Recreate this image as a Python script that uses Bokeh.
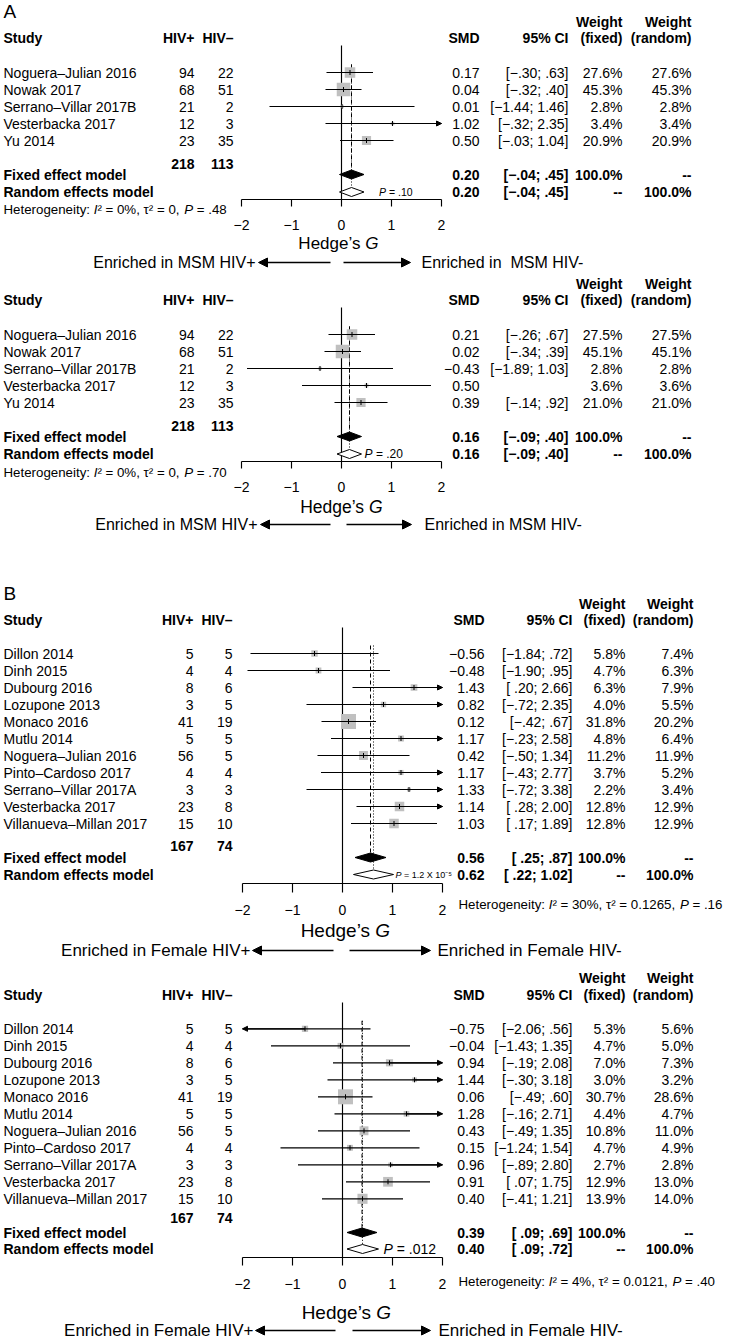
import numpy as np
from bokeh.plotting import figure
from bokeh.layouts import column
from bokeh.models import Range1d, ColumnDataSource, Arrow, NormalHead
from bokeh.core.properties import value
from bokeh.embed import file_html
from bokeh.resources import INLINE

FONT = "Liberation Sans"
BOX = "#c0c0c0"

# ---------------- data: MSM (panel A) ----------------
msm_studies = ["Noguera–Julian 2016", "Nowak 2017", "Serrano–Villar 2017B",
               "Vesterbacka 2017", "Yu 2014"]
msm_n_pos = [94, 68, 21, 12, 23]
msm_n_neg = [22, 51, 2, 3, 35]

a1_smd = [0.17, 0.04, 0.01, 1.02, 0.50]
a1_lo = [-0.30, -0.32, -1.44, -0.32, -0.03]
a1_hi = [0.63, 0.40, 1.46, 2.35, 1.04]
a1_ci_shown = [True, True, True, True, True]
a1_wf = [27.6, 45.3, 2.8, 3.4, 20.9]
a1_wr = [27.6, 45.3, 2.8, 3.4, 20.9]
a1_fixed = [0.20, -0.04, 0.45]
a1_random = [0.20, -0.04, 0.45]
a1_p = ".10"
a1_het = ["0%", "0", ".48"]

a2_smd = [0.21, 0.02, -0.43, 0.50, 0.39]
a2_lo = [-0.26, -0.34, -1.89, -0.79, -0.14]
a2_hi = [0.67, 0.39, 1.03, 1.79, 0.92]
a2_ci_shown = [True, True, True, False, True]
a2_wf = [27.5, 45.1, 2.8, 3.6, 21.0]
a2_wr = [27.5, 45.1, 2.8, 3.6, 21.0]
a2_fixed = [0.16, -0.09, 0.40]
a2_random = [0.16, -0.09, 0.40]
a2_p = ".20"
a2_het = ["0%", "0", ".70"]

# ---------------- data: Female (panel B) ----------------
fem_studies = ["Dillon 2014", "Dinh 2015", "Dubourg 2016", "Lozupone 2013",
               "Monaco 2016", "Mutlu 2014", "Noguera–Julian 2016",
               "Pinto–Cardoso 2017", "Serrano–Villar 2017A", "Vesterbacka 2017",
               "Villanueva–Millan 2017"]
fem_n_pos = [5, 4, 8, 3, 41, 5, 56, 4, 3, 23, 15]
fem_n_neg = [5, 4, 6, 5, 19, 5, 5, 4, 3, 8, 10]

b1_smd = [-0.56, -0.48, 1.43, 0.82, 0.12, 1.17, 0.42, 1.17, 1.33, 1.14, 1.03]
b1_lo = [-1.84, -1.90, 0.20, -0.72, -0.42, -0.23, -0.50, -0.43, -0.72, 0.28, 0.17]
b1_hi = [0.72, 0.95, 2.66, 2.35, 0.67, 2.58, 1.34, 2.77, 3.38, 2.00, 1.89]
b1_ci_shown = [True] * 11
b1_wf = [5.8, 4.7, 6.3, 4.0, 31.8, 4.8, 11.2, 3.7, 2.2, 12.8, 12.8]
b1_wr = [7.4, 6.3, 7.9, 5.5, 20.2, 6.4, 11.9, 5.2, 3.4, 12.9, 12.9]
b1_fixed = [0.56, 0.25, 0.87]
b1_random = [0.62, 0.22, 1.02]
b1_p = "1.2 X 10⁻⁵"
b1_het = ["30%", "0.1265", ".16"]

b2_smd = [-0.75, -0.04, 0.94, 1.44, 0.06, 1.28, 0.43, 0.15, 0.96, 0.91, 0.40]
b2_lo = [-2.06, -1.43, -0.19, -0.30, -0.49, -0.16, -0.49, -1.24, -0.89, 0.07, -0.41]
b2_hi = [0.56, 1.35, 2.08, 3.18, 0.60, 2.71, 1.35, 1.54, 2.80, 1.75, 1.21]
b2_ci_shown = [True] * 11
b2_wf = [5.3, 4.7, 7.0, 3.0, 30.7, 4.4, 10.8, 4.7, 2.7, 12.9, 13.9]
b2_wr = [5.6, 5.0, 7.3, 3.2, 28.6, 4.7, 11.0, 4.9, 2.8, 13.0, 14.0]
b2_fixed = [0.39, 0.09, 0.69]
b2_random = [0.40, 0.09, 0.72]
b2_p = ".012"
b2_het = ["4%", "0.0121", ".40"]

ticks = [-2, -1, 0, 1, 2]
tick_labels = ["−2", "−1", "0", "1", "2"]
XLIM = 2.0

# ---------------- layout ----------------
W = 730
XOFF = 0
UNIT = 50.0

# Arial / Liberation Sans advance widths (per 1000 em) for the heterogeneity line
CW = {" ": 278, "H": 722, "e": 556, "t": 278, "r": 333, "o": 556, "g": 556,
      "n": 556, "i": 222, "y": 500, ":": 278, "I": 278, "P": 667, "²": 333,
      "=": 584, "%": 889, ",": 278, ".": 278, "τ": 470}


def tw(s, size):
    return sum(CW.get(c, 556) for c in s) * size / 1000.0


def num(v):
    s = f"{abs(v):.2f}"
    if s.startswith("0."):
        s = s[1:]
    return ("−" if v < 0 else "") + s


def ci_str(lo, hi):
    los = num(lo) if lo < 0 else " " + num(lo)
    return f"[{los}; {num(hi)}]"


def smd_str(v):
    return ("−" if v < 0 else "") + f"{abs(v):.2f}"


def build(d, L):
    T = L["top"]
    H = L["bottom"] - T
    X = lambda v: v - XOFF
    Y = lambda v: v - T
    zero = X(L["zero"])
    p = figure(width=W, height=H, x_range=Range1d(0, W), y_range=Range1d(H, 0),
               output_backend="svg", toolbar_location=None, min_border=0,
               x_axis_location=None, y_axis_location=None)
    p.extra_x_ranges = {"g": Range1d(-zero / UNIT, (W - zero) / UNIT)}
    p.xgrid.visible = False
    p.ygrid.visible = False
    p.outline_line_color = None
    p.background_fill_color = "white"
    p.border_fill_color = "white"

    def text(xs, ys, texts, align="left", size=14, style="normal", font=FONT,
             rng="default", x_offset=0):
        p.text(x=list(xs), y=list(ys), text=list(texts), text_align=align,
               text_baseline="middle", text_font=value(font),
               text_font_size=f"{size}px", text_font_style=style,
               text_color="black", x_offset=x_offset, x_range_name=rng)

    studies = d["studies"]
    n = len(studies)
    ys = [Y(L["row0"] + i * L["step"]) for i in range(n)]

    if L.get("label"):
        text([X(3)], [Y(L["label_y"])], [L["label"]], size=19)

    # headers
    text([X(3)], [Y(L["hdr"])], ["Study"], style="bold")
    cols = [L["hivp_r"], L["hivn_r"], L["smd_r"], L["ci_r"], L["wf_r"], L["wr_r"]]
    text([X(c) for c in cols], [Y(L["hdr"])] * 6,
         ["HIV+", "HIV–", "SMD", "95% CI", "(fixed)", "(random)"],
         align="right", style="bold")
    text([X(L["wf_r"]), X(L["wr_r"])], [Y(L["w1"])] * 2, ["Weight", "Weight"],
         align="right", style="bold")

    # study rows
    text([X(3)] * n, ys, studies)
    text([X(L["hivp_r"])] * n, ys, [str(v) for v in d["n_pos"]], align="right")
    text([X(L["hivn_r"])] * n, ys, [str(v) for v in d["n_neg"]], align="right")
    text([X(L["smd_r"])] * n, ys, [smd_str(v) for v in d["smd"]], align="right")
    text([X(L["ci_r"])] * n, ys,
         [ci_str(lo, hi) if s else "" for lo, hi, s in zip(d["lo"], d["hi"], d["ci_shown"])],
         align="right")
    text([X(L["wf_r"])] * n, ys, [f"{w:.1f}%" for w in d["wf"]], align="right")
    text([X(L["wr_r"])] * n, ys, [f"{w:.1f}%" for w in d["wr"]], align="right")

    # totals
    text([X(L["hivp_r"]), X(L["hivn_r"])], [Y(L["totals"])] * 2,
         [str(sum(d["n_pos"])), str(sum(d["n_neg"]))], align="right", style="bold")

    # pooled rows
    fy, ry = Y(L["fixed"]), Y(L["random"])
    text([X(3), X(3)], [fy, ry], ["Fixed effect model", "Random effects model"], style="bold")
    fx, rx = d["fixed"], d["random"]
    text([X(L["smd_r"])] * 2, [fy, ry], [smd_str(fx[0]), smd_str(rx[0])], align="right", style="bold")
    text([X(L["ci_r"])] * 2, [fy, ry], [ci_str(fx[1], fx[2]), ci_str(rx[1], rx[2])], align="right", style="bold")
    text([X(L["wf_r"])] * 2, [fy, ry], ["100.0%", "--"], align="right", style="bold")
    text([X(L["wr_r"])] * 2, [fy, ry], ["--", "100.0%"], align="right", style="bold")

    # ---- forest ----
    smd = np.array(d["smd"])
    lo = np.array(d["lo"])
    hi = np.array(d["hi"])
    wf = np.array(d["wf"])
    yarr = np.array(ys)
    ax_y = Y(L["axis"])
    LW = 1.15

    # reference lines
    p.segment(x0=[0], y0=[Y(L["zero_top"])], x1=[0], y1=[ax_y], line_color="black",
              line_width=LW, x_range_name="g")
    top_ref = Y(L["row0"]) - 8
    p.segment(x0=[fx[0]], y0=[top_ref], x1=[fx[0]], y1=[fy - 4.5], line_color="black",
              line_width=1, line_dash="4 3", x_range_name="g")
    p.segment(x0=[rx[0]], y0=[top_ref], x1=[rx[0]], y1=[ry - 4.5], line_color="black",
              line_width=1, line_dash="1 2", x_range_name="g")

    sizes = L["box_max"] * np.sqrt(wf / wf.max())
    p.scatter(x=smd, y=yarr, marker="square", size=sizes, fill_color=BOX,
              line_color=None, x_range_name="g")
    lo_c = np.maximum(lo, -XLIM)
    hi_c = np.minimum(hi, XLIM)
    p.segment(x0=lo_c, y0=yarr, x1=hi_c, y1=yarr, line_color="black", line_width=LW,
              x_range_name="g")
    p.segment(x0=smd, y0=yarr - 2.5, x1=smd, y1=yarr + 2.5, line_color="black",
              line_width=1, x_range_name="g")

    rmask = hi >= XLIM
    lmask = lo <= -XLIM
    for mask, end in ((rmask, XLIM), (lmask, -XLIM)):
        if mask.any():
            src = ColumnDataSource(dict(xs=smd[mask], xe=np.full(mask.sum(), end),
                                        y=yarr[mask]))
            p.add_layout(Arrow(x_start="xs", y_start="y", x_end="xe", y_end="y",
                               source=src, line_width=LW, line_color="black",
                               end=NormalHead(size=5, fill_color="black",
                                              line_color="black", line_width=1),
                               x_range_name="g"))

    # diamonds
    dh = 4.5
    p.patches(xs=[[fx[1], fx[0], fx[2], fx[0]]], ys=[[fy, fy - dh, fy, fy + dh]],
              fill_color="black", line_color="black", line_width=1, x_range_name="g")
    p.patches(xs=[[rx[1], rx[0], rx[2], rx[0]]], ys=[[ry, ry - dh, ry, ry + dh]],
              fill_color="white", line_color="black", line_width=1, x_range_name="g")

    # p-value
    ps = L["p_size"]
    text([rx[2]], [ry], ["P"], size=ps, style="italic", rng="g", x_offset=L["p_gap"])
    text([rx[2]], [ry], ["= " + d["p"]], size=ps, rng="g",
         x_offset=L["p_gap"] + 0.95 * ps)

    # axis
    p.segment(x0=[ticks[0]], y0=[ax_y], x1=[ticks[-1]], y1=[ax_y], line_color="black",
              line_width=LW, x_range_name="g")
    p.segment(x0=ticks, y0=[ax_y] * len(ticks), x1=ticks,
              y1=[ax_y + L["tick_len"]] * len(ticks), line_color="black",
              line_width=LW, x_range_name="g")
    text(ticks, [Y(L["ticklab"])] * len(ticks), tick_labels, align="center", rng="g")

    # heterogeneity (italic I and P)
    h = d["het"]
    hs = L["het_size"]
    pieces = [("Heterogeneity: ", "normal"), ("I", "italic"),
              (f"² = {h[0]}, τ² = {h[1]}, ", "normal"), ("P", "italic"),
              (f" = {h[2]}", "normal")]
    cx = X(L["het_x"])
    for s_, st in pieces:
        lead = len(s_) - len(s_.lstrip(" "))
        text([cx + tw(" " * lead, hs)], [Y(L["het_y"])], [s_.strip(" ")], size=hs, style=st)
        cx += tw(s_, hs)

    # Hedge's G
    s = L["hedge_size"]
    start = X(L["hedge_c"]) - 2.3465 * s
    text([start + 3.637 * s], [Y(L["hedge_y"])], ["Hedge’s"], align="right", size=s)
    text([start + 3.915 * s], [Y(L["hedge_y"])], ["G"], size=s, style="italic")

    # enriched arrows
    ey = Y(L["enr_y"])
    es = L["enr_size"]
    text([X(L["lt_r"])], [ey], [d["left_txt"]], align="right", size=es)
    text([X(L["rt_l"])], [ey], [d["right_txt"]], size=es)
    for a0, a1 in (L["la"], L["ra"]):
        p.add_layout(Arrow(x_start=X(a0), y_start=ey, x_end=X(a1), y_end=ey,
                           line_width=1.3, line_color="black",
                           end=NormalHead(size=9, fill_color="black",
                                          line_color="black", line_width=1)))
    return p


A_cols = dict(zero=341, hivp_r=194, hivn_r=233, smd_r=479, ci_r=568, wf_r=622,
              wr_r=691, step=17, box_max=13.5, het_size=13.3)
B_cols = dict(zero=342, hivp_r=193, hivn_r=232, smd_r=484, ci_r=572, wf_r=625,
              wr_r=693, step=17, box_max=15, het_size=13.3)

LA1 = dict(A_cols, top=0, bottom=273, label="A", label_y=11, w1=21, hdr=37, row0=72,
           totals=163, fixed=174, random=191.5, zero_top=45, axis=199, tick_len=7,
           ticklab=224, het_x=3, het_y=208.5, hedge_c=338, hedge_y=243, hedge_size=17,
           enr_y=262, enr_size=16, lt_r=255, la=(330, 258), ra=(343, 410), rt_l=421,
           p_gap=15, p_size=10.5)
LA2 = dict(A_cols, top=273, bottom=578, label=None, w1=283, hdr=299, row0=334,
           totals=425, fixed=436, random=453.5, zero_top=307, axis=461, tick_len=7,
           ticklab=486, het_x=3, het_y=472, hedge_c=341, hedge_y=506, hedge_size=17.5,
           enr_y=524, enr_size=16, lt_r=257, la=(330, 260), ra=(346, 411), rt_l=424,
           p_gap=3, p_size=12)
LB1 = dict(B_cols, top=578, bottom=962, label="B", label_y=593, w1=603, hdr=619,
           row0=653, totals=845, fixed=857, random=874, zero_top=627, axis=883,
           tick_len=9, ticklab=909, het_x=458, het_y=904, hedge_c=345, hedge_y=930,
           hedge_size=19, enr_y=950, enr_size=17, lt_r=250, la=(333, 252),
           ra=(349, 430), rt_l=437, p_gap=2, p_size=9)
LB2 = dict(B_cols, top=962, bottom=1338, label=None, w1=977, hdr=994, row0=1028.3,
           totals=1217, fixed=1232, random=1248.5, zero_top=1002, axis=1257,
           tick_len=8, ticklab=1283, het_x=458, het_y=1281, hedge_c=346, hedge_y=1312,
           hedge_size=19, enr_y=1330, enr_size=17, lt_r=253, la=(335, 255),
           ra=(352, 430), rt_l=438, p_gap=5, p_size=14)

DA1 = dict(studies=msm_studies, n_pos=msm_n_pos, n_neg=msm_n_neg, smd=a1_smd, lo=a1_lo,
           hi=a1_hi, ci_shown=a1_ci_shown, wf=a1_wf, wr=a1_wr, fixed=a1_fixed,
           random=a1_random, p=a1_p, het=a1_het,
           left_txt="Enriched in MSM HIV+", right_txt="Enriched in\u00a0 MSM HIV-")
DA2 = dict(studies=msm_studies, n_pos=msm_n_pos, n_neg=msm_n_neg, smd=a2_smd, lo=a2_lo,
           hi=a2_hi, ci_shown=a2_ci_shown, wf=a2_wf, wr=a2_wr, fixed=a2_fixed,
           random=a2_random, p=a2_p, het=a2_het,
           left_txt="Enriched in MSM HIV+", right_txt="Enriched in MSM HIV-")
DB1 = dict(studies=fem_studies, n_pos=fem_n_pos, n_neg=fem_n_neg, smd=b1_smd, lo=b1_lo,
           hi=b1_hi, ci_shown=b1_ci_shown, wf=b1_wf, wr=b1_wr, fixed=b1_fixed,
           random=b1_random, p=b1_p, het=b1_het,
           left_txt="Enriched in Female HIV+", right_txt="Enriched in Female HIV-")
DB2 = dict(studies=fem_studies, n_pos=fem_n_pos, n_neg=fem_n_neg, smd=b2_smd, lo=b2_lo,
           hi=b2_hi, ci_shown=b2_ci_shown, wf=b2_wf, wr=b2_wr, fixed=b2_fixed,
           random=b2_random, p=b2_p, het=b2_het,
           left_txt="Enriched in Female HIV+", right_txt="Enriched in Female HIV-")

layout = column(build(DA1, LA1), build(DA2, LA2), build(DB1, LB1), build(DB2, LB2),
                spacing=0)

open("out.html", "w").write(file_html(layout, INLINE))
